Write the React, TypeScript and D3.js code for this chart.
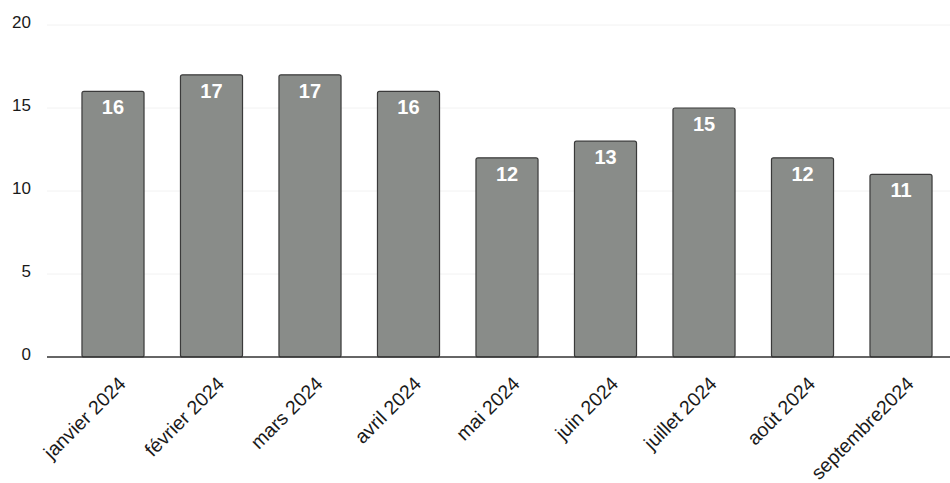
import React from "react";
import * as d3 from "d3";

const months = [
  "janvier 2024",
  "février 2024",
  "mars 2024",
  "avril 2024",
  "mai 2024",
  "juin 2024",
  "juillet 2024",
  "août 2024",
  "septembre2024",
];
const counts = [16, 17, 17, 16, 12, 13, 15, 12, 11];
const yTicks = [0, 5, 10, 15, 20];

const W = 950;
const H = 483;

export default function App() {
  const x = d3
    .scaleBand<string>()
    .domain(months)
    .range([47, 967])
    .paddingInner(0.37)
    .paddingOuter(0.355);
  const y = d3.scaleLinear().domain([0, 20]).range([357, 25]);
  const font = "'Liberation Sans', Arial, sans-serif";

  return (
    <svg
      width={W}
      height={H}
      style={{ position: "absolute", left: 0, top: 0, background: "#fff" }}
      fontFamily={font}
    >
      {yTicks.map((t) => (
        <g key={t}>
          {t > 0 && (
            <line x1={47} x2={W} y1={y(t)} y2={y(t)} stroke="#f2f2f2" strokeWidth={1} />
          )}
          <text x={31} y={y(t) - 3} dy="0.36em" textAnchor="end" fontSize={17} fill="#1a1a1a">
            {t}
          </text>
        </g>
      ))}
      {months.map((m, i) => {
        const bx = x(m)!;
        const bw = x.bandwidth();
        const top = y(counts[i]);
        return (
          <g key={m}>
            <rect
              x={bx}
              y={top}
              width={bw}
              height={y(0) - top}
              rx={2}
              fill="#898c89"
              stroke="#3a3a3a"
              strokeWidth={1.2}
            />
            <text
              x={bx + bw / 2}
              y={top + 23}
              textAnchor="middle"
              fontSize={20}
              fontWeight="bold"
              fill="#ffffff"
            >
              {counts[i]}
            </text>
          </g>
        );
      })}
      <line x1={47} x2={W} y1={y(0)} y2={y(0)} stroke="#333" strokeWidth={1.5} />
      {months.map((m) => {
        const cx = x(m)! + x.bandwidth() / 2;
        return (
          <text
            key={m}
            transform={`translate(${cx + 14},${y(0) + 28}) rotate(-45)`}
            textAnchor="end"
            fontSize={19.5}
            fill="#1a1a1a"
          >
            {m}
          </text>
        );
      })}
    </svg>
  );
}
